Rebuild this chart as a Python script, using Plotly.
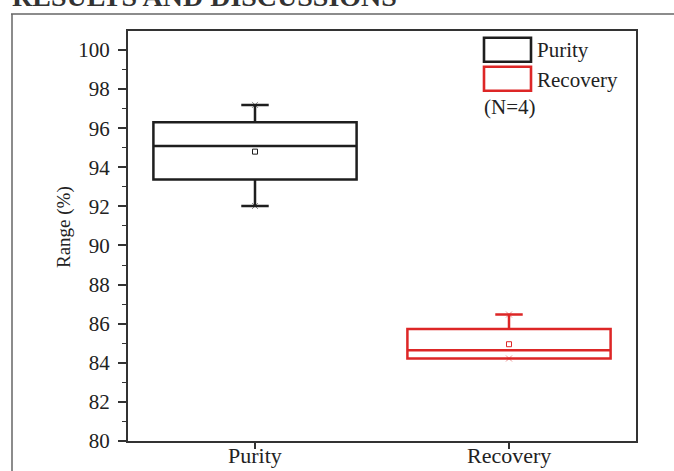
import plotly.graph_objects as go

# ---- data ----
categories = ["Purity", "Recovery"]
q1_vals = [93.38, 84.22]
median_vals = [95.09, 84.64]
q3_vals = [96.30, 85.73]
min_vals = [92.02, 84.22]
max_vals = [97.19, 86.47]
mean_vals = [94.80, 84.95]
y_ticks = [80, 82, 84, 86, 88, 90, 92, 94, 96, 98, 100]
legend_labels = ["Purity", "Recovery"]
note_text = "(N=4)"
y_title = "Range (%)"
heading = "RESULTS AND DISCUSSIONS"

colors = ["#1e1e1e", "#dd2626"]
FONT = "Liberation Serif"
W, H = 674, 471
ML, MR, MT, MB = 128, 38, 31, 30
PW, PH = W - ML - MR, H - MT - MB


def px(x):
    return (x - ML) / PW


def py(y):
    return (H - MB - y) / PH


fig = go.Figure()
for i, cat in enumerate(categories):
    fig.add_trace(go.Box(
        x=[cat], q1=[q1_vals[i]], median=[median_vals[i]], q3=[q3_vals[i]],
        lowerfence=[min_vals[i]], upperfence=[max_vals[i]],
        width=0.8, whiskerwidth=0.135, boxpoints=False,
        line=dict(color=colors[i], width=2.5),
        fillcolor="rgba(0,0,0,0)", showlegend=False, name=cat,
    ))

fig.add_trace(go.Scatter(
    x=categories, y=mean_vals, mode="markers", showlegend=False,
    marker=dict(symbol="square-open", size=5, color=colors, line=dict(width=1)),
))
fig.add_trace(go.Scatter(
    x=categories + categories, y=min_vals + max_vals, mode="markers", showlegend=False,
    marker=dict(symbol="x-thin", size=6, color=colors + colors, opacity=0.5,
                line=dict(width=1, color=colors + colors)),
))

shapes = []
annotations = []
# category labels under the axis (placed tighter than plotly's default)
for cat in categories:
    annotations.append(dict(xref="x", yref="paper", x=cat, y=py(455.5),
                            xanchor="center", yanchor="middle", showarrow=False, text=cat,
                            font=dict(family=FONT, size=22, color="#222")))
# custom legend
icon_y = [(37.7, 61.7), (66.7, 90.7)]
text_y = [50, 80]
for i, lab in enumerate(legend_labels):
    shapes.append(dict(type="rect", xref="paper", yref="paper",
                       x0=px(484), x1=px(531), y0=py(icon_y[i][1]), y1=py(icon_y[i][0]),
                       line=dict(color=colors[i], width=2.6), fillcolor="white"))
    annotations.append(dict(xref="paper", yref="paper", x=px(535), y=py(text_y[i]),
                            xanchor="left", yanchor="middle", showarrow=False, text=lab,
                            font=dict(family=FONT, size=21, color="#222")))
annotations.append(dict(xref="paper", yref="paper", x=px(482), y=py(107),
                        xanchor="left", yanchor="middle", showarrow=False, text=note_text,
                        font=dict(family=FONT, size=21, color="#222")))
# y title
annotations.append(dict(xref="paper", yref="paper", x=px(64), y=py(227),
                        xanchor="center", yanchor="middle", showarrow=False, text=y_title,
                        textangle=-90, font=dict(family=FONT, size=19, color="#222")))
# cropped document heading
annotations.append(dict(xref="paper", yref="paper", x=px(10), y=py(14),
                        xanchor="left", yanchor="bottom", showarrow=False,
                        text="<b>" + heading + "</b>",
                        font=dict(family=FONT, size=28, color="#333")))
# document frame lines
shapes.append(dict(type="line", xref="paper", yref="paper", x0=px(11), x1=px(674),
                   y0=py(14), y1=py(14), line=dict(color="#666", width=1.5)))
shapes.append(dict(type="line", xref="paper", yref="paper", x0=px(12), x1=px(12),
                   y0=py(14), y1=py(471), line=dict(color="#666", width=1.5)))

fig.update_layout(
    width=W, height=H, autosize=False, margin=dict(l=ML, r=MR, t=MT, b=MB),
    paper_bgcolor="white", plot_bgcolor="white", boxmode="overlay",
    showlegend=False, shapes=shapes, annotations=annotations,
    font=dict(family=FONT, color="#222"),
)
fig.update_xaxes(
    type="category", range=[-0.5, 1.5], showgrid=False, zeroline=False,
    automargin=False, showticklabels=False,
    showline=True, mirror=True, linecolor="#333", linewidth=2,
    ticks="outside", ticklen=6, tickwidth=1.5, tickcolor="#333",
)
fig.update_yaxes(
    range=[80, 100.97], tickvals=y_ticks, showgrid=False, zeroline=False,
    automargin=False,
    showline=True, mirror=True, linecolor="#333", linewidth=2,
    ticks="outside", ticklen=8, tickwidth=1.5, tickcolor="#333",
    ticklabelstandoff=4,
    tickfont=dict(family=FONT, size=21, color="#222"),
    minor=dict(dtick=1, ticks="outside", ticklen=4, tickwidth=1.2, tickcolor="#333"),
)

page_fix = (
    "var s=document.createElement('style');"
    "s.textContent='html,body{margin:0;padding:0;overflow:hidden;width:674px;height:471px;}"
    ".plotly-graph-div{position:absolute;left:0;top:0;}';"
    "document.head.appendChild(s);"
)

fig.write_html(
    "out.html",
    config={"responsive": False, "displayModeBar": False},
    post_script=page_fix,
)
